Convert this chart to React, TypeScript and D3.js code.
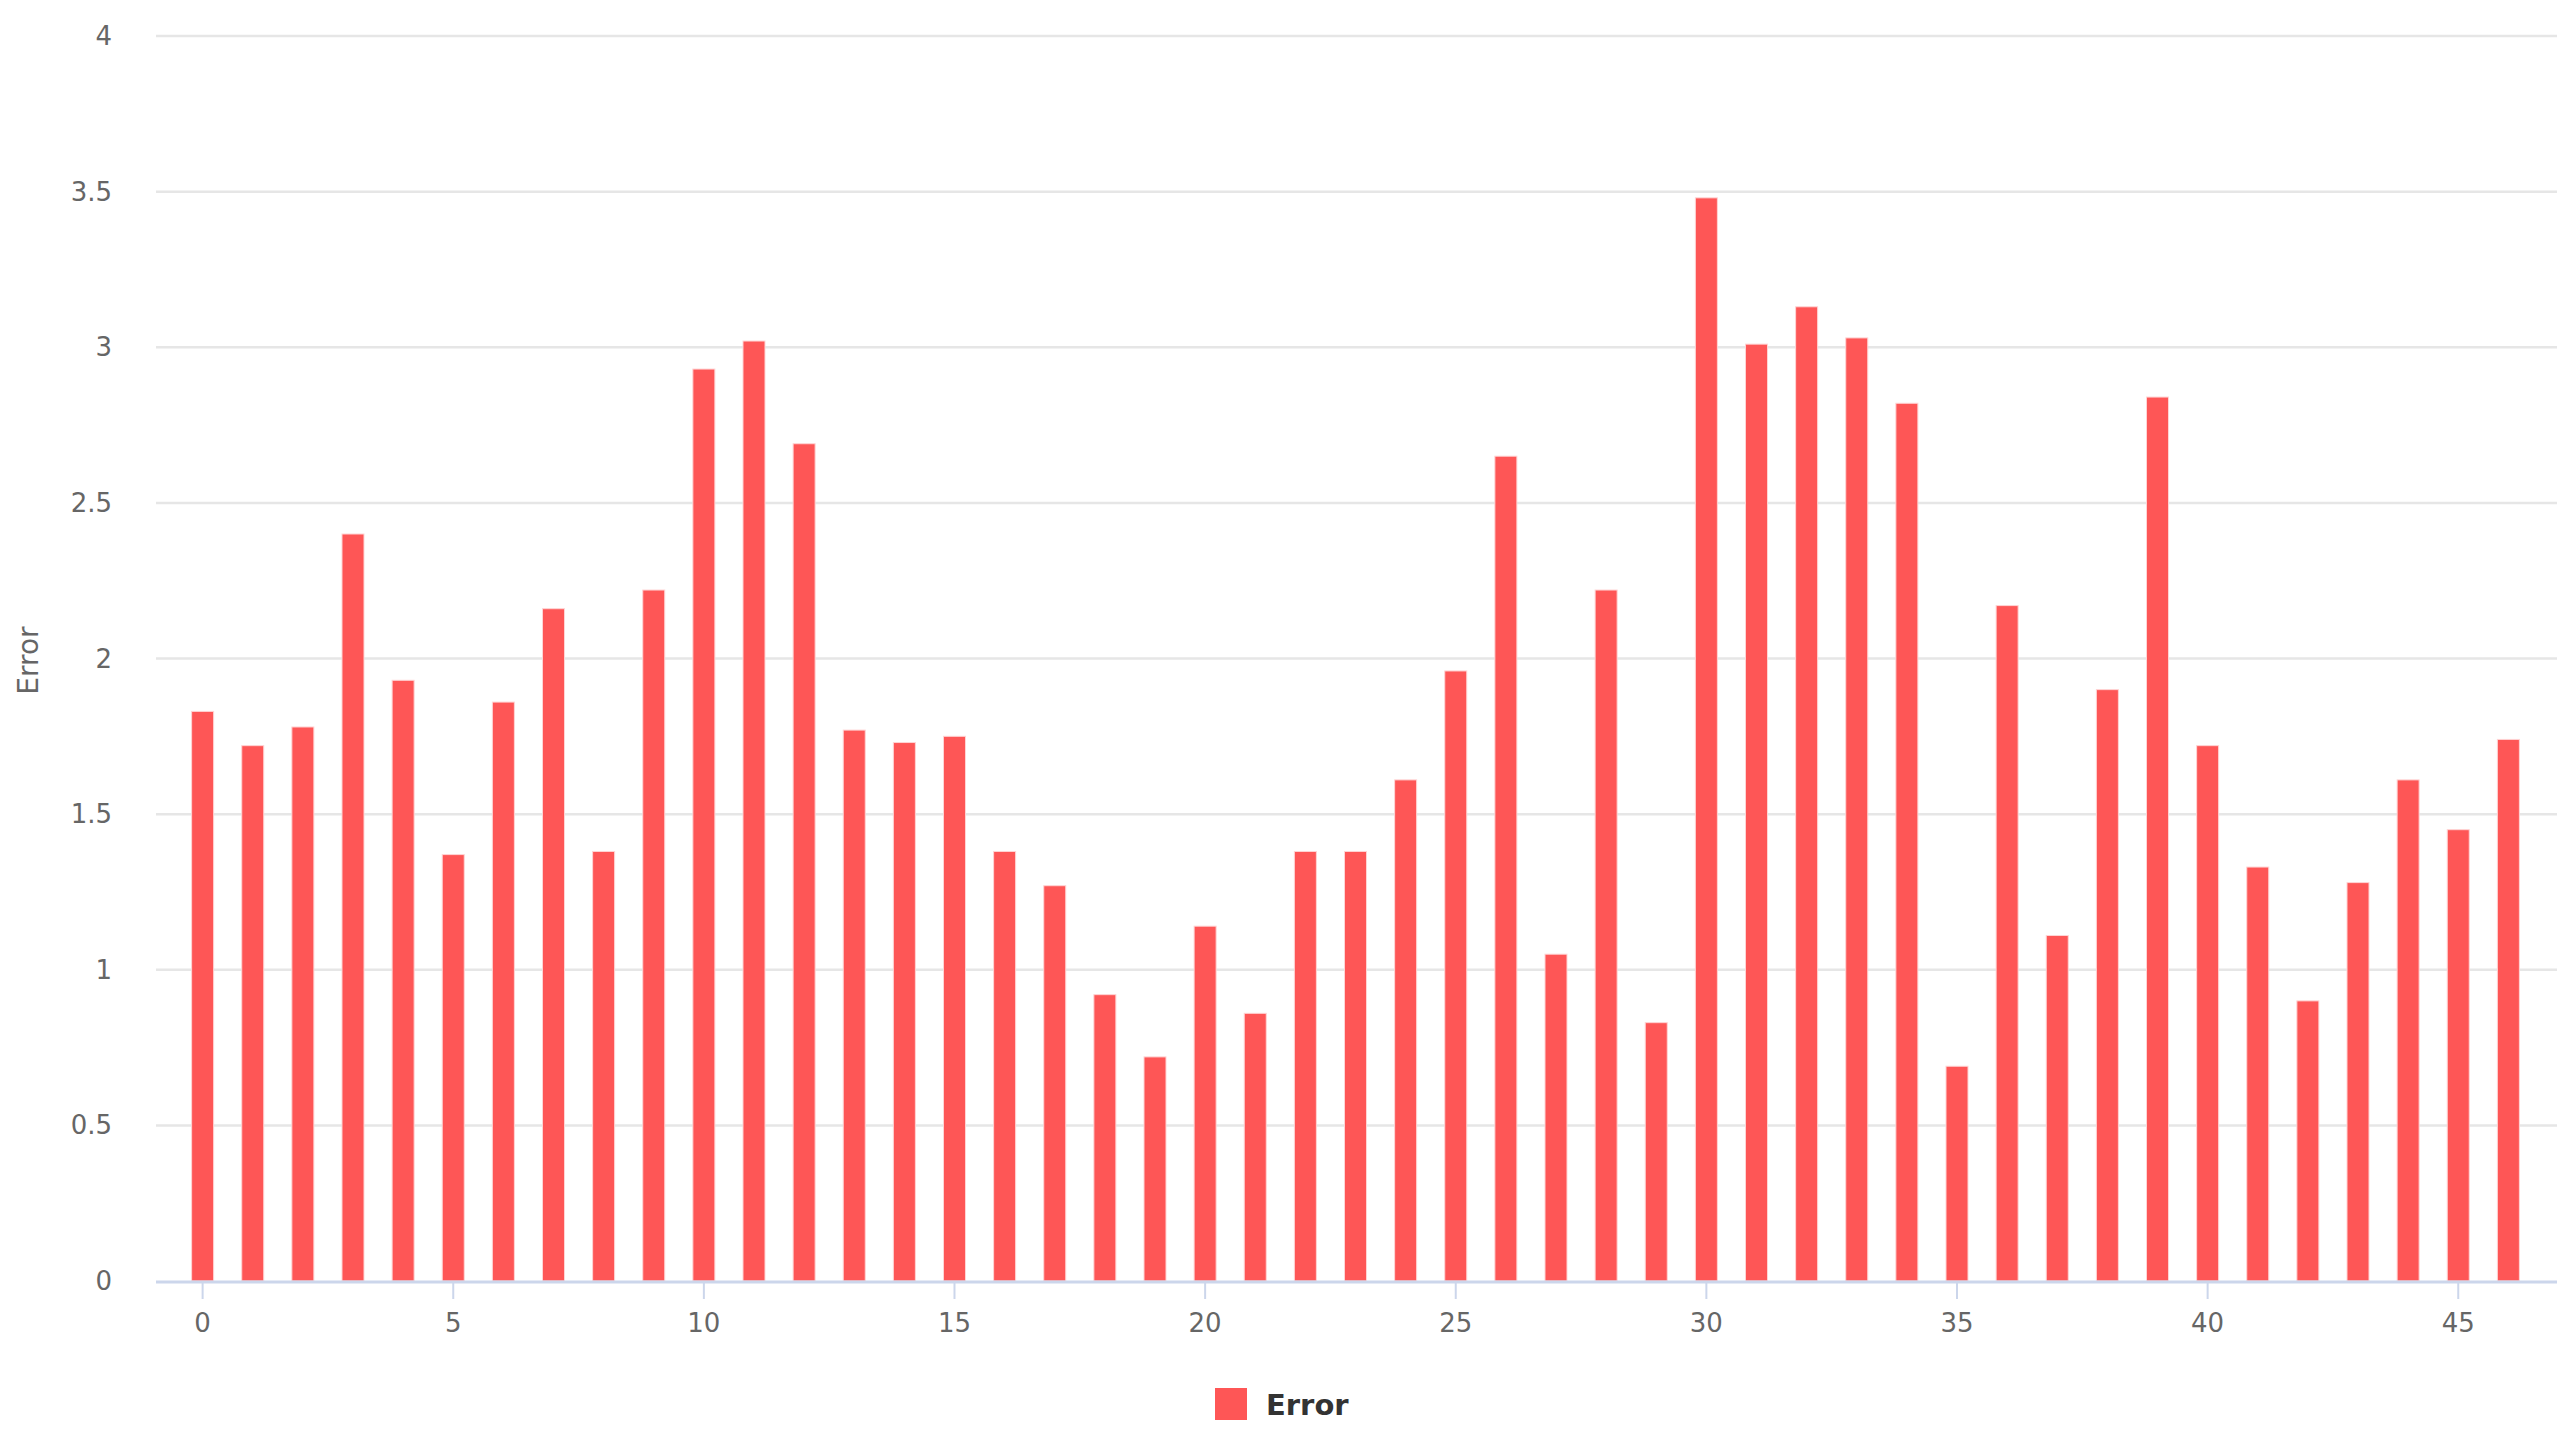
import React, { useEffect } from "react";
import * as d3 from "d3";

// error per run
const errorValues = [
  1.83, 1.72, 1.78, 2.4, 1.93, 1.37, 1.86, 2.16, 1.38, 2.22,
  2.93, 3.02, 2.69, 1.77, 1.73, 1.75, 1.38, 1.27, 0.92, 0.72,
  1.14, 0.86, 1.38, 1.38, 1.61, 1.96, 2.65, 1.05, 2.22, 0.83,
  3.48, 3.01, 3.13, 3.03, 2.82, 0.69, 2.17, 1.11, 1.9, 2.84,
  1.72, 1.33, 0.9, 1.28, 1.61, 1.45, 1.74,
];
const yTicks = [0, 0.5, 1, 1.5, 2, 2.5, 3, 3.5, 4];
const xTicks = [0, 5, 10, 15, 20, 25, 30, 35, 40, 45];
const seriesName = "Error";

const W = 2575;
const H = 1435;
const font = "'DejaVu Sans', 'Lucida Grande', sans-serif";
const barColor = "#fe5656";

export default function App() {
  useEffect(() => {
    document.body.style.margin = "0";
  }, []);

  const left = 156, right = 2557, top = 36, bottom = 1281;
  const x = d3.scaleLinear().domain([-0.93, 46.97]).range([left, right]);
  const y = d3.scaleLinear().domain([0, 4]).range([bottom, top]);
  const barW = 22;

  const fmt = (v: number) => (Number.isInteger(v) ? String(v) : String(v));

  return (
    <svg width={W} height={H} style={{ display: "block", background: "#fff" }}>
      {/* grid */}
      <g>
        {yTicks.filter((t) => t > 0).map((t) => (
          <line key={t} x1={left} x2={right} y1={y(t)} y2={y(t)} stroke="#e6e6e6" strokeWidth={2.5} />
        ))}
      </g>
      {/* y labels */}
      <g fontFamily={font} fontSize={26} fill="#666" textAnchor="end">
        {yTicks.map((t) => (
          <text key={t} x={112} y={y(t)} dy="0.35em">{fmt(t)}</text>
        ))}
      </g>
      <text
        transform={`translate(${28},${(top + bottom) / 2 + 2}) rotate(-90)`}
        textAnchor="middle"
        dy="0.35em"
        fontFamily={font}
        fontSize={28}
        fill="#666"
      >
        {seriesName}
      </text>
      {/* bars */}
      <g>
        {errorValues.map((v, i) => (
          <rect
            key={i}
            x={x(i) - barW / 2}
            y={y(v)}
            width={barW}
            height={bottom - y(v)}
            fill={barColor}
            stroke="#ffd4d4"
            strokeWidth={1}
          />
        ))}
      </g>
      {/* x axis */}
      <line x1={left} x2={right} y1={bottom + 1} y2={bottom + 1} stroke="#ccd6eb" strokeWidth={3} />
      <g fontFamily={font} fontSize={26} fill="#666" textAnchor="middle">
        {xTicks.map((t) => (
          <g key={t}>
            <line x1={x(t)} x2={x(t)} y1={bottom} y2={bottom + 18} stroke="#ccd6eb" strokeWidth={2} />
            <text x={x(t)} y={1332}>{t}</text>
          </g>
        ))}
      </g>
      {/* legend */}
      <rect x={1215} y={1388} width={32} height={32} fill={barColor} />
      <text x={1266} y={1415} fontFamily={font} fontSize={29} fontWeight="bold" fill="#333">
        {seriesName}
      </text>
    </svg>
  );
}
